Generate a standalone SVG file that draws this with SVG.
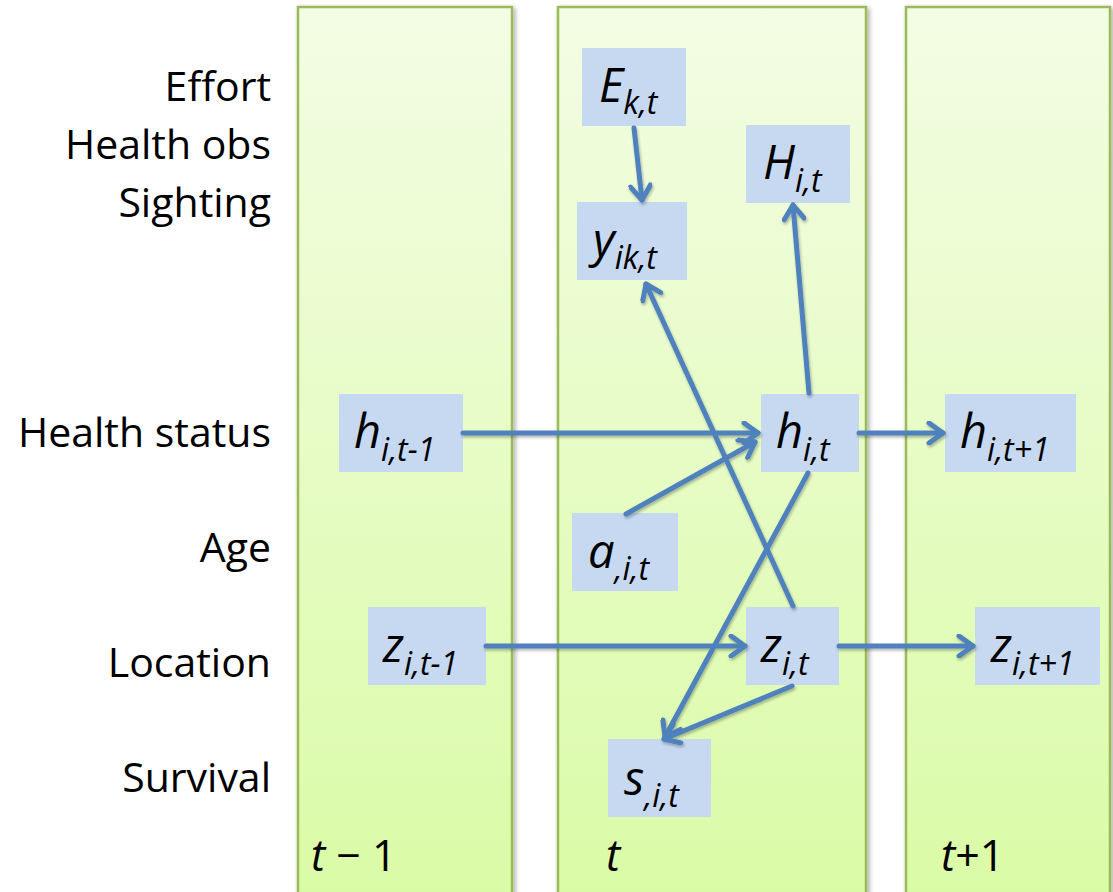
<svg xmlns="http://www.w3.org/2000/svg" width="1113" height="892" viewBox="0 0 1113 892">
<style>
.col{fill:url(#g);stroke:#9bbb59;stroke-width:2.5}
.node{fill:#c6d9f1}
.m{font-family:"Open Sans",sans-serif;font-style:italic;font-size:47px;fill:#000}
.s{font-size:32px}
.lbl{font-family:"Open Sans",sans-serif;font-size:41px;fill:#000;text-anchor:end}
.tl{font-family:"Open Sans",sans-serif;font-size:43px;fill:#000}
.e{fill:none;stroke:#4f81bd;stroke-width:5;stroke-linecap:round}
</style>
<defs>
<linearGradient id="g" x1="0" y1="0" x2="0" y2="1">
<stop offset="0" stop-color="#f3fde4"/>
<stop offset="1" stop-color="#dafba6"/>
</linearGradient>
<filter id="sh" x="-10%" y="-5%" width="130%" height="120%">
<feGaussianBlur in="SourceAlpha" stdDeviation="2.5"/>
<feOffset dx="2" dy="2"/>
<feComponentTransfer><feFuncA type="linear" slope="0.35"/></feComponentTransfer>
<feMerge><feMergeNode/><feMergeNode in="SourceGraphic"/></feMerge>
</filter>
<filter id="ash" x="-20%" y="-20%" width="140%" height="140%">
<feGaussianBlur in="SourceAlpha" stdDeviation="1.5"/>
<feOffset dx="1" dy="2"/>
<feComponentTransfer><feFuncA type="linear" slope="0.3"/></feComponentTransfer>
<feMerge><feMergeNode/><feMergeNode in="SourceGraphic"/></feMerge>
</filter>
<marker id="ah" viewBox="0 0 24 24" refX="20" refY="12" markerWidth="24" markerHeight="24" markerUnits="userSpaceOnUse" orient="auto">
<path d="M6,2 L20,12 L6,22" fill="none" stroke="#4f81bd" stroke-width="5" stroke-linecap="round" stroke-linejoin="round"/>
</marker>
</defs>
<g id="columns" filter="url(#sh)">
<rect class="col" x="298" y="7" width="214" height="895"/>
<rect class="col" x="558" y="7" width="308" height="895"/>
<rect class="col" x="906" y="7" width="204" height="895"/>
</g>
<g id="row-labels">
<text class="lbl" x="271" y="101">Effort</text>
<text class="lbl" x="271" y="159">Health obs</text>
<text class="lbl" x="271" y="217">Sighting</text>
<text class="lbl" x="271" y="447">Health status</text>
<text class="lbl" x="271" y="562">Age</text>
<text class="lbl" x="271" y="677">Location</text>
<text class="lbl" x="271" y="792">Survival</text>
</g>
<g id="time-labels">
<text class="tl" x="311" y="871"><tspan font-style="italic">t</tspan> − 1</text>
<text class="tl" x="606" y="871"><tspan font-style="italic">t</tspan></text>
<text class="tl" x="941" y="871"><tspan font-style="italic">t</tspan>+1</text>
</g>
<g id="n-E"><rect class="node" x="582" y="48" width="104" height="78"/><text class="m" x="599" y="102">E<tspan class="s" dy="12">k,t</tspan></text></g>
<g id="n-H"><rect class="node" x="746" y="125" width="104" height="78"/><text class="m" x="763" y="179">H<tspan class="s" dy="13">i,t</tspan></text></g>
<g id="n-y"><rect class="node" x="577" y="202" width="110" height="78"/><text class="m" x="593" y="257">y<tspan class="s" dy="12">ik,t</tspan></text></g>
<g id="n-h-prev"><rect class="node" x="339" y="394" width="124" height="78"/><text class="m" x="354" y="448">h<tspan class="s" dy="13">i,t-1</tspan></text></g>
<g id="n-h"><rect class="node" x="761" y="394" width="98" height="78"/><text class="m" x="776" y="448">h<tspan class="s" dy="13">i,t</tspan></text></g>
<g id="n-h-next"><rect class="node" x="945" y="394" width="131" height="78"/><text class="m" x="960" y="448">h<tspan class="s" dy="13">i,t+1</tspan></text></g>
<g id="n-a"><rect class="node" x="572" y="513" width="106" height="78"/><text class="m" x="588" y="568">a<tspan class="s" dy="12">,i,t</tspan></text></g>
<g id="n-z-prev"><rect class="node" x="368" y="607" width="118" height="78"/><text class="m" x="383" y="662">z<tspan class="s" dy="13">i,t-1</tspan></text></g>
<g id="n-z"><rect class="node" x="746" y="607" width="93" height="78"/><text class="m" x="761" y="662">z<tspan class="s" dy="13">i,t</tspan></text></g>
<g id="n-z-next"><rect class="node" x="975" y="607" width="125" height="78"/><text class="m" x="991" y="662">z<tspan class="s" dy="13">i,t+1</tspan></text></g>
<g id="n-s"><rect class="node" x="608" y="739" width="103" height="78"/><text class="m" x="624" y="795">s<tspan class="s" dy="12">,i,t</tspan></text></g>
<g id="connectors" filter="url(#ash)">
<line class="e" x1="634" y1="128" x2="642" y2="200" marker-end="url(#ah)"/>
<line class="e" x1="809" y1="393" x2="793" y2="205" marker-end="url(#ah)"/>
<line class="e" x1="793" y1="606" x2="646" y2="284" marker-end="url(#ah)"/>
<line class="e" x1="463" y1="433" x2="758" y2="433" marker-end="url(#ah)"/>
<line class="e" x1="626" y1="514" x2="755" y2="442" marker-end="url(#ah)"/>
<line class="e" x1="859" y1="433" x2="943" y2="433" marker-end="url(#ah)"/>
<line class="e" x1="808" y1="473" x2="665" y2="737" marker-end="url(#ah)"/>
<line class="e" x1="486" y1="646" x2="745" y2="646" marker-end="url(#ah)"/>
<line class="e" x1="839" y1="646" x2="973" y2="646" marker-end="url(#ah)"/>
<line class="e" x1="792" y1="686" x2="664" y2="739" marker-end="url(#ah)"/>
</g>
</svg>
